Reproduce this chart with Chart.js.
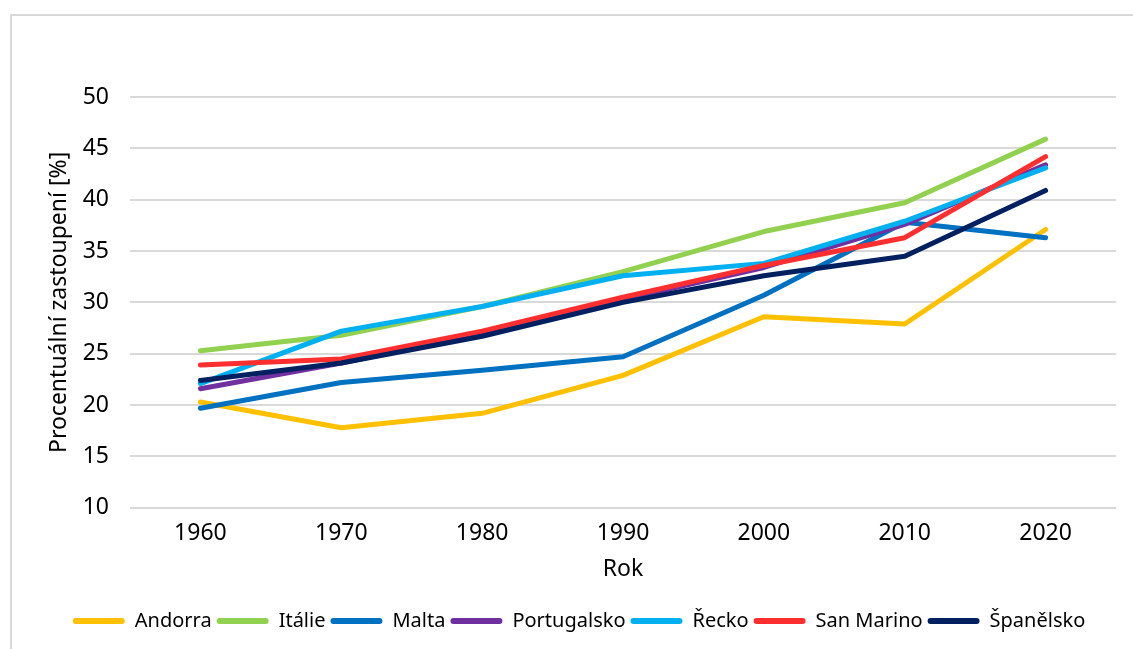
<!DOCTYPE html>
<html>
<head>
<meta charset="utf-8">
<script src="https://cdn.jsdelivr.net/npm/chart.js@4"></script>
<style>
  body { margin: 0; background: #fff; overflow: hidden; }
  #ramecek { position: absolute; left: 10px; top: 14px; width: 1200px; height: 700px; border: 2px solid #d9d9d9; }
  #obal { position: absolute; left: 0; top: 0; width: 1133px; height: 649px; }
</style>
</head>
<body>
<div id="ramecek"></div>
<div id="obal"><canvas id="myChart"></canvas></div>
<script>
const roky = ['1960', '1970', '1980', '1990', '2000', '2010', '2020'];

const andorra     = [20.3, 17.8, 19.2, 22.9, 28.6, 27.9, 37.1];
const italie      = [25.3, 26.8, 29.6, 33.0, 36.9, 39.7, 45.9];
const malta       = [19.7, 22.2, 23.4, 24.7, 30.7, 37.8, 36.3];
const portugalsko = [21.6, 24.1, 27.0, 30.3, 33.4, 37.6, 43.4];
const recko       = [22.1, 27.2, 29.6, 32.6, 33.8, 37.9, 43.1];
const sanMarino   = [23.9, 24.5, 27.2, 30.5, 33.6, 36.3, 44.2];
const spanelsko   = [22.4, 24.1, 26.7, 30.0, 32.6, 34.5, 40.9];

const nazvy = ['Andorra', 'Itálie', 'Malta', 'Portugalsko', 'Řecko', 'San Marino', 'Španělsko'];
const hodnoty = [andorra, italie, malta, portugalsko, recko, sanMarino, spanelsko];
const barvy = ['#FFC000', '#92D050', '#0070C0', '#7030A0', '#00B0F0', '#FF2F2F', '#002060'];

const pismo = "'Noto Sans', 'Open Sans', sans-serif";

const datasets = nazvy.map((nazev, i) => {
    return {
        label: nazev,
        data: hodnoty[i],
        borderColor: barvy[i],
        backgroundColor: barvy[i],
        borderWidth: 5,
        borderCapStyle: 'round',
        borderJoinStyle: 'round',
        pointRadius: 0,
        tension: 0,
        order: nazvy.length - i
    }
})

const config = {
    type: 'line',
    data: { labels: roky, datasets: datasets },
    options: {
        responsive: false,
        animation: false,
        layout: { padding: { left: 42, right: 17, top: 97, bottom: 8 } },
        plugins: {
            tooltip: { enabled: false },
            legend: {
                position: 'bottom',
                labels: {
                    font: { family: pismo, size: 20 },
                    color: '#000',
                    boxWidth: 52,
                    boxHeight: 6,
                    padding: 5,
                    useBorderRadius: true,
                    borderRadius: 3,
                    sort: (a, b) => a.datasetIndex - b.datasetIndex,
                    generateLabels: (chart) => {
                        const zaklad = Chart.defaults.plugins.legend.labels.generateLabels(chart);
                        return zaklad.map((p) => {
                            p.lineWidth = 0;
                            return p;
                        })
                    }
                }
            }
        },
        scales: {
            x: {
                offset: true,
                grid: { display: false },
                border: { display: false },
                ticks: { font: { family: pismo, size: 23 }, color: '#000', padding: 4 },
                title: { display: true, text: 'Rok', font: { family: pismo, size: 23 }, color: '#000', padding: { top: 4, bottom: 23 } }
            },
            y: {
                min: 10,
                max: 50,
                afterFit: (osa) => { osa.width = 88; },
                ticks: { stepSize: 5, font: { family: pismo, size: 23 }, color: '#000', padding: 21 },
                grid: { color: '#d9d9d9', lineWidth: 2, drawTicks: false },
                border: { display: false },
                title: { display: true, text: 'Procentuální zastoupení [%]', font: { family: pismo, size: 23 }, color: '#000', padding: 4 }
            }
        }
    }
};

const canvas = document.getElementById('myChart');
canvas.width = 1133;
canvas.height = 649;
const myChart = new Chart(canvas, config);
</script>
</body>
</html>
